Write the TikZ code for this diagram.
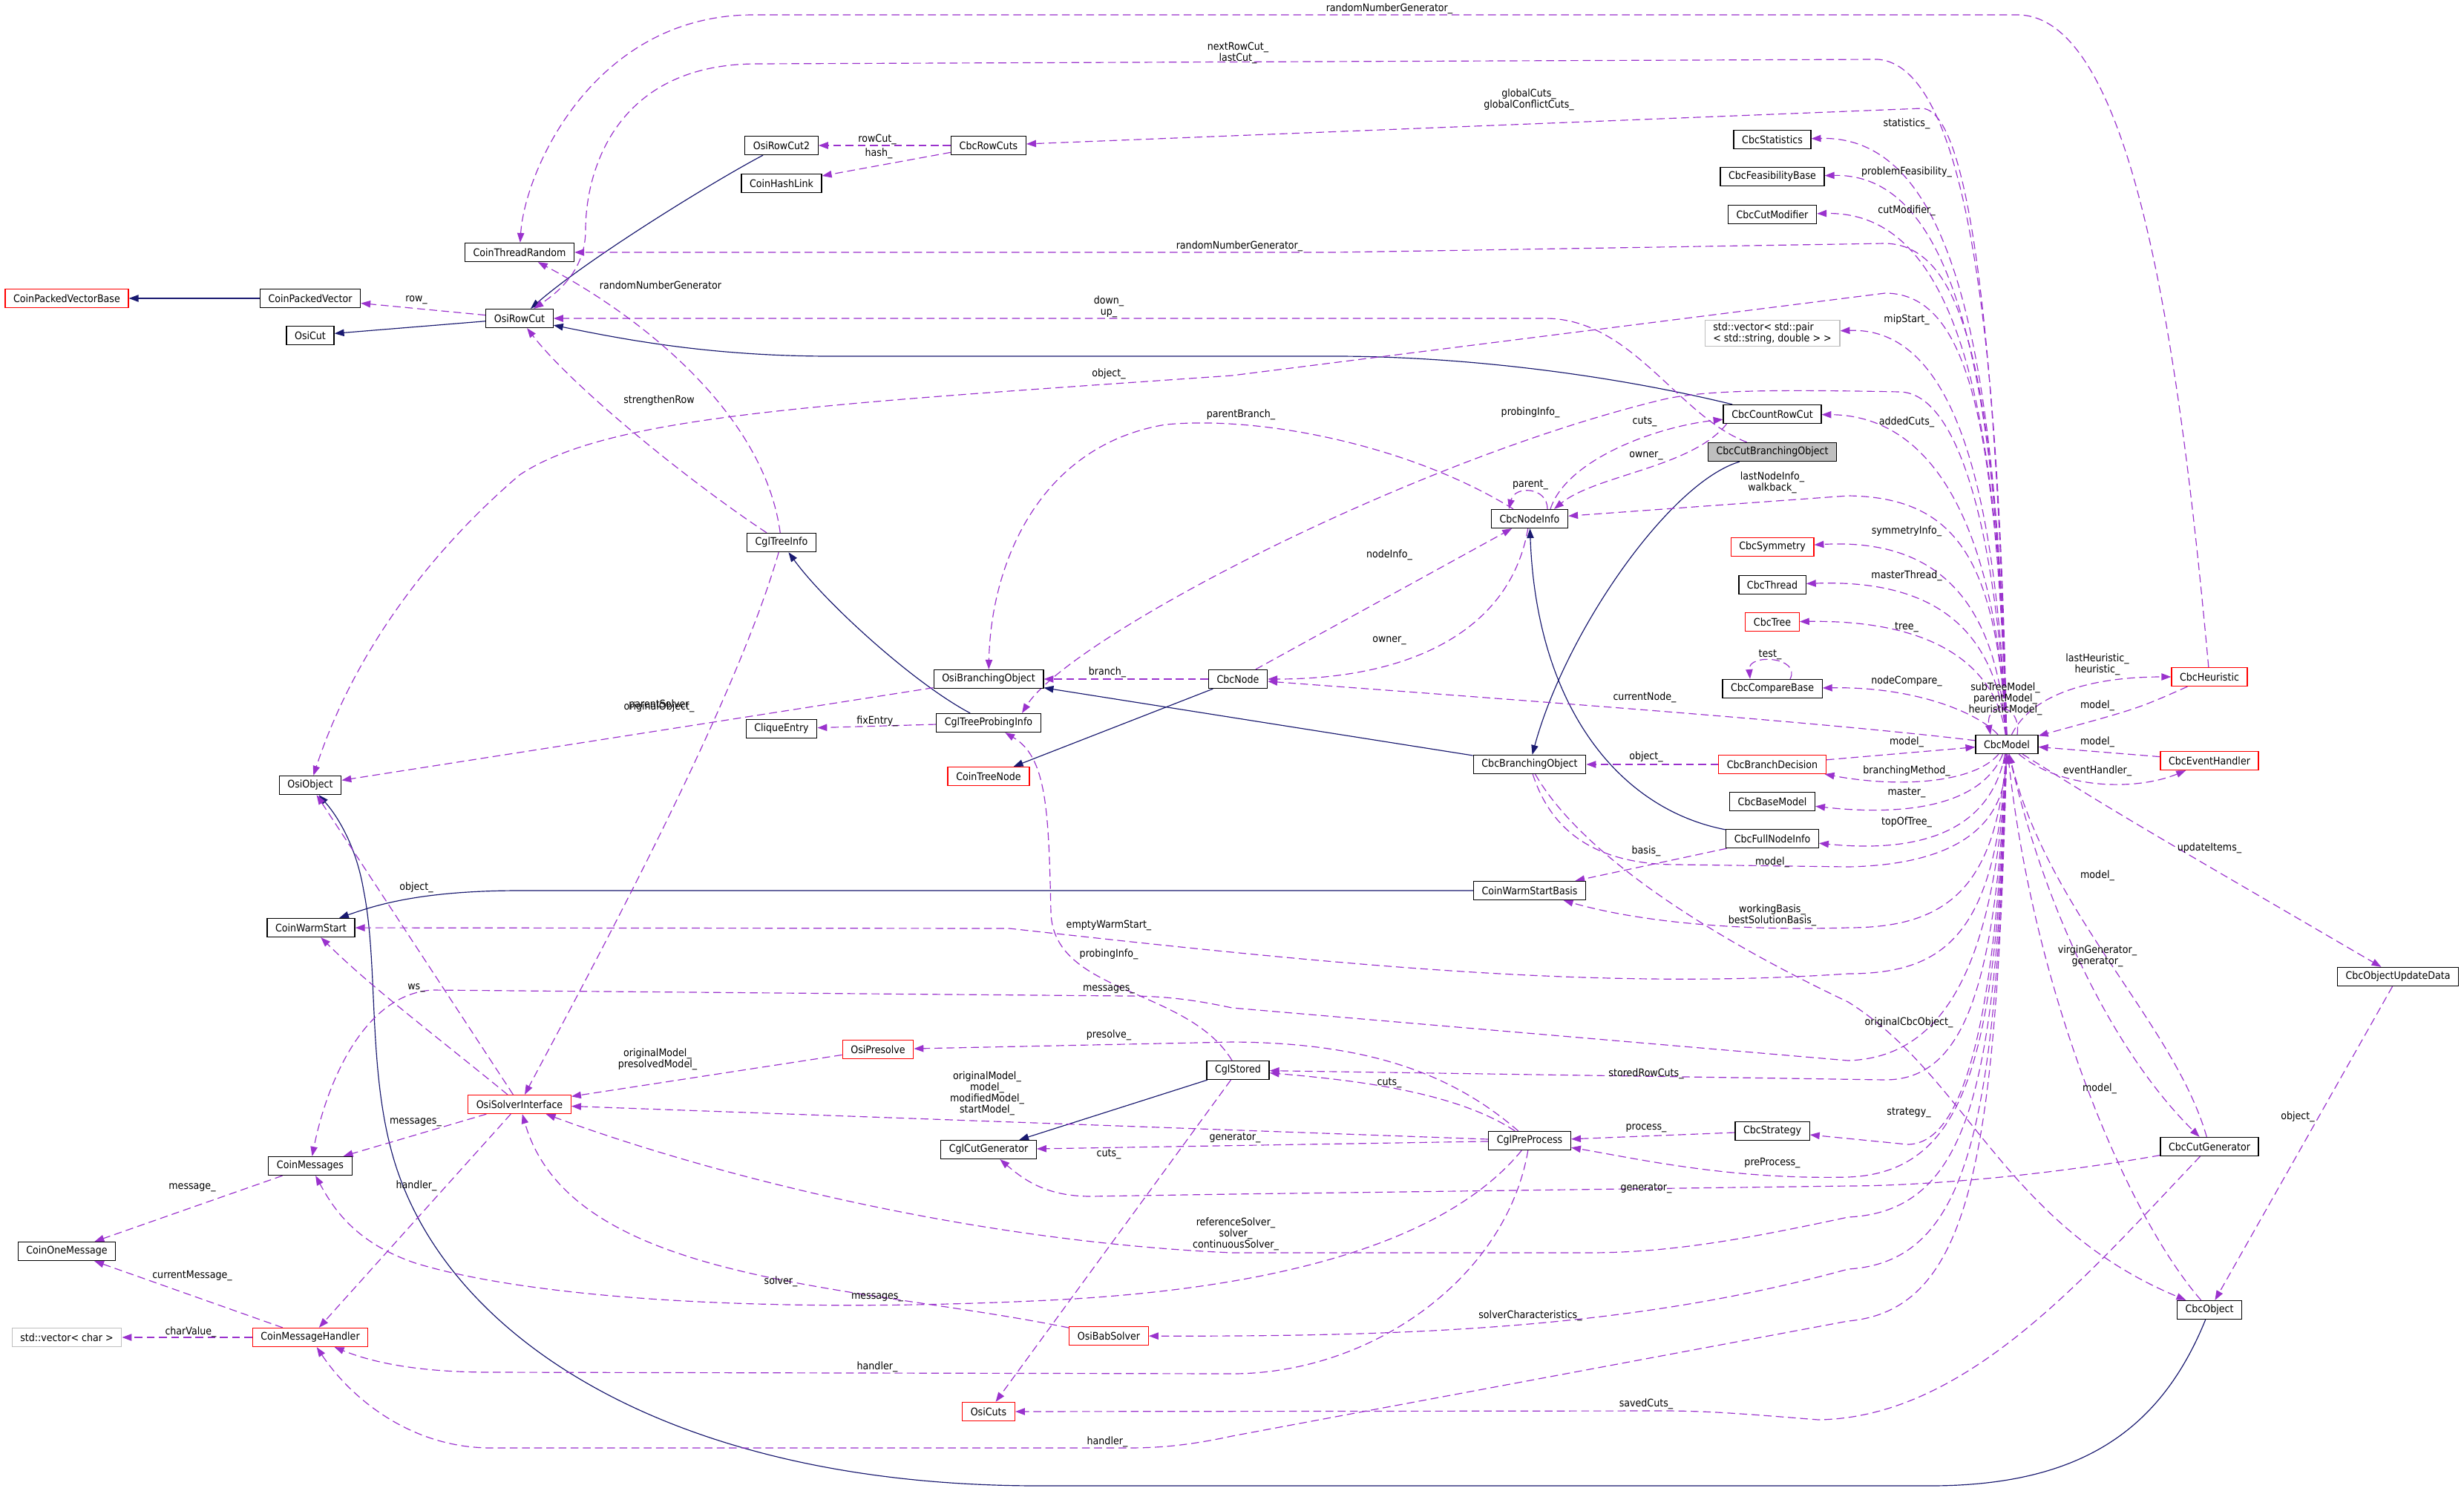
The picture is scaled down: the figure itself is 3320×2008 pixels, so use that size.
\documentclass[tikz,border=0pt]{standalone}
\usepackage{fontspec}
\setmainfont{DejaVu Sans}[FakeStretch=0.9]
\usetikzlibrary{arrows.meta,calc,backgrounds}
\definecolor{dorchid}{HTML}{9A32CD}
\definecolor{mnavy}{HTML}{191970}
\definecolor{grey75}{HTML}{BFBFBF}
\newcommand\cbcfont{\fontsize{12}{12.8}\selectfont}
\tikzset{
  cls/.style={draw=black,fill=white,line width=1.1pt,font=\cbcfont,inner xsep=9.5pt,inner ysep=0pt,minimum height=0.75cm},
  redcls/.style={cls,draw=red},
  extcls/.style={cls,draw=grey75,align=left,inner ysep=3pt},
  uses/.style={-{Triangle[length=11pt,width=8pt]},color=dorchid,dash pattern=on 9pt off 5pt,line width=1pt},
  inh/.style={-{Triangle[length=11pt,width=8pt]},color=mnavy,line width=1pt},
  lbl/.style={font=\cbcfont,align=center,inner sep=0pt},
}
\begin{document}
\begin{tikzpicture}[x=0.03cm,y=-0.03cm]
  % classes
  \node[redcls] (CoinPackedVectorBase) at (90,402) {CoinPackedVectorBase};
  \node[cls] (CoinPackedVector) at (418,402) {CoinPackedVector};
  \node[cls] (OsiCut) at (418,452) {OsiCut};
  \node[cls] (OsiRowCut) at (700,429) {OsiRowCut};
  \node[cls] (CoinThreadRandom) at (700,340) {CoinThreadRandom};
  \node[cls] (OsiRowCut2) at (1053,196) {OsiRowCut2};
  \node[cls] (CoinHashLink) at (1053,247) {CoinHashLink};
  \node[cls] (CbcRowCuts) at (1332,196) {CbcRowCuts};
  \node[cls] (CbcStatistics) at (2388,188) {CbcStatistics};
  \node[cls] (CbcFeasibilityBase) at (2388,238) {CbcFeasibilityBase};
  \node[cls] (CbcCutModifier) at (2388,289) {CbcCutModifier};
  \node[extcls] (StdPair) at (2388,449) {std::vector< std::pair\\< std::string, double > >};
  \node[cls] (CbcCountRowCut) at (2388,558) {CbcCountRowCut};
  \node[cls,fill=grey75] (CbcCutBranchingObject) at (2388,609) {CbcCutBranchingObject};
  \node[cls] (CbcNodeInfo) at (2061,699) {CbcNodeInfo};
  \node[redcls] (CbcSymmetry) at (2388,737) {CbcSymmetry};
  \node[cls] (CbcThread) at (2388,788) {CbcThread};
  \node[redcls] (CbcTree) at (2388,838) {CbcTree};
  \node[cls] (CbcCompareBase) at (2388,928) {CbcCompareBase};
  \node[cls] (CbcNode) at (1668,915) {CbcNode};
  \node[cls] (CglTreeInfo) at (1053,731) {CglTreeInfo};
  \node[cls] (OsiBranchingObject) at (1332,915) {OsiBranchingObject};
  \node[cls] (CglTreeProbingInfo) at (1332,974) {CglTreeProbingInfo};
  \node[cls] (CliqueEntry) at (1053,982) {CliqueEntry};
  \node[redcls] (CoinTreeNode) at (1332,1046) {CoinTreeNode};
  \node[cls] (OsiObject) at (418,1058) {OsiObject};
  \node[cls] (CbcBranchingObject) at (2061,1030) {CbcBranchingObject};
  \node[redcls] (CbcBranchDecision) at (2388,1030) {CbcBranchDecision};
  \node[cls] (CbcBaseModel) at (2388,1080) {CbcBaseModel};
  \node[cls] (CbcFullNodeInfo) at (2388,1130) {CbcFullNodeInfo};
  \node[cls] (CoinWarmStartBasis) at (2061,1200) {CoinWarmStartBasis};
  \node[cls] (CoinWarmStart) at (419,1250) {CoinWarmStart};
  \node[cls] (CbcModel) at (2704,1003) {CbcModel};
  \node[redcls] (CbcHeuristic) at (2977,912) {CbcHeuristic};
  \node[redcls] (CbcEventHandler) at (2977,1025) {CbcEventHandler};
  \node[cls] (CbcObjectUpdateData) at (3231,1316) {CbcObjectUpdateData};
  \node[redcls] (OsiPresolve) at (1183,1414) {OsiPresolve};
  \node[cls] (CglStored) at (1668,1442) {CglStored};
  \node[redcls] (OsiSolverInterface) at (700,1488) {OsiSolverInterface};
  \node[cls] (CglPreProcess) at (2061,1537) {CglPreProcess};
  \node[cls] (CbcStrategy) at (2388,1524) {CbcStrategy};
  \node[cls] (CglCutGenerator) at (1332,1549) {CglCutGenerator};
  \node[cls] (CbcCutGenerator) at (2977,1545) {CbcCutGenerator};
  \node[cls] (CoinMessages) at (418,1571) {CoinMessages};
  \node[cls] (CoinOneMessage) at (90,1686) {CoinOneMessage};
  \node[redcls] (OsiBabSolver) at (1494,1800) {OsiBabSolver};
  \node[cls] (CbcObject) at (2977,1765) {CbcObject};
  \node[extcls] (StdChar) at (90,1802) {std::vector< char >};
  \node[redcls] (CoinMessageHandler) at (418,1802) {CoinMessageHandler};
  \node[redcls] (OsiCuts) at (1332,1902) {OsiCuts};

  \begin{scope}[on background layer]
    \fill[white] (0,0) rectangle (3320,2008);
    % inheritance
    \draw[inh] (CoinPackedVector) -- (CoinPackedVectorBase);
    \draw[inh] (OsiRowCut) -- (OsiCut);
    \draw[inh] (OsiRowCut2) .. controls (960,245) and (790,350) .. (OsiRowCut);
    \draw[inh] (CbcCountRowCut) .. controls (2150,500) and (1950,480) .. (1800,480) -- (1120,480) .. controls (950,480) and (830,455) .. (OsiRowCut);
    \draw[inh] (CbcCutBranchingObject) .. controls (2250,650) and (2110,850) .. (CbcBranchingObject);
    \draw[inh] (CbcBranchingObject) -- (OsiBranchingObject);
    \draw[inh] (CbcNode) -- (CoinTreeNode);
    \draw[inh] (CglTreeProbingInfo) .. controls (1230,920) and (1110,810) .. (CglTreeInfo);
    \draw[inh] (CbcFullNodeInfo) .. controls (2180,1090) and (2070,950) .. (CbcNodeInfo);
    \draw[inh] (CoinWarmStartBasis) -- (700,1200) .. controls (560,1200) and (500,1222) .. (CoinWarmStart);
    \draw[inh] (CglStored) -- (CglCutGenerator);
    \draw[inh] (CbcObject) .. controls (2910,1930) and (2800,2002) .. (2600,2002) -- (1400,2002) .. controls (900,2002) and (600,1800) .. (530,1560) .. controls (495,1440) and (510,1300) .. (490,1200) .. controls (480,1140) and (455,1100) .. (OsiObject);
    % members of CbcModel, upwards
    \draw[uses] (CbcModel) .. controls (2695,550) and (2665,90) .. (2530,80) -- (1020,86) .. controls (830,86) and (789,230) .. (789,310) .. controls (789,365) and (750,395) .. (OsiRowCut);
    \draw[uses] (CbcModel) .. controls (2692,520) and (2660,150) .. (2590,146) -- (CbcRowCuts);
    \draw[uses] (CbcModel) .. controls (2692,500) and (2640,182) .. (CbcStatistics);
    \draw[uses] (CbcModel) .. controls (2693,530) and (2640,233) .. (CbcFeasibilityBase);
    \draw[uses] (CbcModel) .. controls (2694,560) and (2640,284) .. (CbcCutModifier);
    \draw[uses] (CbcModel) .. controls (2690,560) and (2660,330) .. (2540,328) -- (1800,340) -- (CoinThreadRandom);
    \draw[uses] (CbcModel) .. controls (2690,600) and (2660,395) .. (2540,395) -- (1660,506) .. controls (1100,545) and (820,560) .. (700,640) .. controls (560,760) and (470,900) .. (OsiObject);
    \draw[uses] (CbcModel) .. controls (2690,680) and (2640,440) .. (StdPair);
    \draw[uses] (CbcModel) .. controls (2690,720) and (2610,560) .. (CbcCountRowCut);
    \draw[uses] (CbcModel) .. controls (2690,720) and (2640,530) .. (2560,528) .. controls (2400,525) and (2300,525) .. (2242,538) .. controls (1900,620) and (1440,860) .. ($(CglTreeProbingInfo.north)+(45,0)$);
    \draw[uses] (CbcModel) .. controls (2690,760) and (2640,670) .. (2490,668) -- (CbcNodeInfo);
    \draw[uses] (CbcModel) .. controls (2690,820) and (2620,725) .. (CbcSymmetry);
    \draw[uses] (CbcModel) .. controls (2690,860) and (2620,780) .. (CbcThread);
    \draw[uses] (CbcModel) .. controls (2690,900) and (2610,835) .. (CbcTree);
    \draw[uses] (CbcModel) .. controls (2665,960) and (2580,925) .. (CbcCompareBase);
    \draw[uses] (CbcModel) .. controls (2450,972) and (2000,940) .. (CbcNode);
    \draw[uses] (CbcModel) .. controls (2740,930) and (2830,912) .. (CbcHeuristic);
    \draw[uses] ($(CbcModel.north)+(14,0)$) .. controls +(6,-45) and +(-8,-45) .. ($(CbcModel.north)+(-22,0)$);
    % members of CbcModel, downwards
    \draw[uses] (CbcModel) .. controls (2660,1055) and (2560,1062) .. (CbcBranchDecision);
    \draw[uses] (CbcModel) .. controls (2670,1085) and (2570,1100) .. (CbcBaseModel);
    \draw[uses] (CbcModel) .. controls (2680,1130) and (2570,1148) .. (CbcFullNodeInfo);
    \draw[uses] (CbcModel) .. controls (2690,1200) and (2620,1250) .. (2490,1250) .. controls (2330,1255) and (2200,1240) .. (CoinWarmStartBasis);
    \draw[uses] (CbcModel) .. controls (2690,1260) and (2620,1312) .. (2490,1312) .. controls (2150,1335) and (1800,1300) .. (1360,1251) -- (CoinWarmStart);
    \draw[uses] (CbcModel) .. controls (2690,1300) and (2620,1425) .. (2490,1429) -- (1660,1358) .. controls (1600,1345) and (1560,1342) .. (1518,1342) -- (582,1334) .. controls (490,1340) and (440,1460) .. (CoinMessages);
    \draw[uses] (CbcModel) .. controls (2690,1320) and (2650,1455) .. (2540,1455) -- (CglStored);
    \draw[uses] (CbcModel) .. controls (2690,1360) and (2650,1542) .. (2570,1542) -- (CbcStrategy);
    \draw[uses] (CbcModel) .. controls (2690,1400) and (2660,1580) .. (2490,1586) .. controls (2330,1590) and (2200,1560) .. (CglPreProcess);
    \draw[uses] (CbcModel) .. controls (2690,1450) and (2660,1632) .. (2490,1640) .. controls (2350,1670) and (2250,1688) .. (2140,1688) -- (1660,1688) .. controls (1300,1672) and (950,1580) .. (OsiSolverInterface);
    \draw[uses] (CbcModel) .. controls (2690,1500) and (2660,1700) .. (2490,1710) .. controls (2200,1790) and (1900,1801) .. (OsiBabSolver);
    \draw[uses] (CbcModel) .. controls (2690,1550) and (2660,1765) .. (2490,1780) -- (1660,1935) .. controls (1600,1948) and (1560,1951) .. (1518,1951) -- (662,1951) .. controls (550,1951) and (470,1880) .. (CoinMessageHandler);
    \draw[uses] (CbcModel) .. controls (2860,1100) .. (CbcObjectUpdateData);
    \draw[uses] (CbcModel) .. controls (2760,1250) and (2860,1430) .. (CbcCutGenerator);
    \draw[uses] (CbcModel) .. controls (2780,1065) and (2880,1065) .. (CbcEventHandler);
    % back to CbcModel
    \draw[uses] (CbcBranchDecision) -- (CbcModel);
    \draw[uses] (CbcHeuristic) .. controls (2880,955) .. (CbcModel);
    \draw[uses] (CbcEventHandler) -- (CbcModel);
    \draw[uses] (CbcBranchingObject) .. controls (2090,1120) and (2150,1165) .. (2260,1165) -- (2490,1168) .. controls (2640,1165) and (2700,1110) .. (CbcModel);
    \draw[uses] (CbcCutGenerator) .. controls (2930,1380) and (2760,1230) .. (CbcModel);
    \draw[uses] (CbcObject) .. controls (2860,1630) and (2740,1330) .. (CbcModel);
    % other members
    \draw[uses] (CbcHeuristic) .. controls (2935,450) and (2870,20) .. (2718,20) -- (1015,20) .. controls (800,20) and (707,230) .. (CoinThreadRandom);
    \draw[uses] (OsiRowCut) -- (CoinPackedVector);
    \draw[uses] (CbcRowCuts) -- (OsiRowCut2);
    \draw[uses] (CbcRowCuts) -- (CoinHashLink);
    \draw[uses] (CbcCutBranchingObject) .. controls (2260,560) and (2200,430) .. (2083,429) -- (OsiRowCut);
    \draw[uses] (CglTreeInfo) .. controls (930,650) and (770,520) .. (OsiRowCut);
    \draw[uses] (CglTreeInfo) .. controls (1030,560) and (870,430) .. (CoinThreadRandom);
    \draw[uses] (CglTreeInfo) .. controls (990,950) and (800,1300) .. (OsiSolverInterface);
    \draw[uses] (OsiBranchingObject) -- (OsiObject);
    \draw[uses] (OsiSolverInterface) -- (OsiObject);
    \draw[uses] (OsiSolverInterface) .. controls (580,1390) and (500,1330) .. (CoinWarmStart);
    \draw[uses] (OsiSolverInterface) -- (CoinMessages);
    \draw[uses] (OsiSolverInterface) -- (CoinMessageHandler);
    \draw[uses] (CoinMessages) -- (CoinOneMessage);
    \draw[uses] (CoinMessageHandler) -- (CoinOneMessage);
    \draw[uses] (CoinMessageHandler) -- (StdChar);
    \draw[uses] (OsiPresolve) -- (OsiSolverInterface);
    \draw[uses] (CglPreProcess) .. controls (1960,1450) and (1850,1405) .. (1660,1404) -- (OsiPresolve);
    \draw[uses] (CglPreProcess) -- (OsiSolverInterface);
    \draw[uses] (CglPreProcess) -- (CglCutGenerator);
    \draw[uses] (CglPreProcess) .. controls (1960,1470) and (1820,1455) .. (CglStored);
    \draw[uses] (CglPreProcess) .. controls (1960,1660) and (1760,1735) .. (1412,1752) .. controls (1000,1772) and (700,1745) .. (560,1702) .. controls (480,1675) and (450,1630) .. (CoinMessages);
    \draw[uses] (CglPreProcess) .. controls (2030,1720) and (1850,1851) .. (1660,1851) -- (662,1849) .. controls (560,1849) and (500,1835) .. (CoinMessageHandler);
    \draw[uses] (OsiBabSolver) .. controls (1150,1730) and (770,1730) .. (OsiSolverInterface);
    \draw[uses] (CbcStrategy) -- (CglPreProcess);
    \draw[uses] (CglStored) .. controls (1600,1330) and (1420,1340) .. (1416,1230) .. controls (1413,1090) and (1410,1020) .. (CglTreeProbingInfo);
    \draw[uses] (CglStored) -- (OsiCuts);
    \draw[uses] (CbcCutGenerator) .. controls (2810,1720) and (2650,1910) .. (2450,1913) .. controls (2350,1905) and (2300,1901) .. (2242,1901) -- (OsiCuts);
    \draw[uses] (CbcCutGenerator) .. controls (2720,1590) and (2560,1598) .. (2490,1598) -- (1660,1609) -- (1470,1612) .. controls (1410,1612) and (1380,1590) .. (CglCutGenerator);
    \draw[uses] (CbcObjectUpdateData) -- (CbcObject);
    \draw[uses] (CbcBranchingObject) .. controls (2130,1150) and (2300,1260) .. (2490,1350) .. controls (2650,1450) and (2700,1650) .. (CbcObject);
    \draw[uses] (CbcFullNodeInfo) -- (CoinWarmStartBasis);
    \draw[uses] (CbcBranchDecision) -- (CbcBranchingObject);
    \draw[uses] (CbcNode) -- (CbcNodeInfo);
    \draw[uses] (CbcNodeInfo) .. controls (2035,850) and (1900,915) .. (CbcNode);
    \draw[uses] ($(CbcNodeInfo.north)+(28,0)$) .. controls (2110,620) and (2230,575) .. (CbcCountRowCut);
    \draw[uses] ($(CbcCountRowCut.south west)+(5,0)$) .. controls (2280,630) and (2150,640) .. ($(CbcNodeInfo.north)+(33,0)$);
    \draw[uses] ($(CbcNodeInfo.north)+(24,0)$) .. controls +(0,-30) and +(8,-32) .. ($(CbcNodeInfo.north)+(-28,0)$);
    \draw[uses] ($(CbcNodeInfo.north)+(-22,0)$) .. controls (1900,600) and (1700,560) .. (1571,572) .. controls (1400,600) and (1335,760) .. (OsiBranchingObject);
    \draw[uses] (CbcNode) -- (OsiBranchingObject);
    \draw[uses] (CglTreeProbingInfo) -- (CliqueEntry);
    \draw[uses] ($(CbcCompareBase.north)+(24,0)$) .. controls +(15,-30) and +(-3,-35) .. ($(CbcCompareBase.north)+(-30,0)$);
  \end{scope}

  % edge labels
  \foreach \x/\y/\t [count=\i] in {
    1872/12/randomNumberGenerator\_, 1668/71/{nextRowCut\_\\lastCut\_},
    2060/134/{globalCuts\_\\globalConflictCuts\_}, 1182/188/rowCut\_, 1184/207/hash\_,
    2569/167/statistics\_, 2569/232/problemFeasibility\_, 2569/284/cutModifier\_,
    1670/332/randomNumberGenerator\_, 890/384/randomNumberGenerator, 561/404/row\_,
    1494/413/{down\_\\up\_}, 2569/431/mipStart\_, 1494/504/object\_, 888/540/strengthenRow,
    2062/556/probingInfo\_, 1672/559/parentBranch\_, 2216/568/cuts\_, 2569/569/addedCuts\_,
    2218/614/owner\_, 2062/653/parent\_, 2388/650/{lastNodeInfo\_\\walkback\_},
    2569/716/symmetryInfo\_, 1872/748/nodeInfo\_, 2569/776/masterThread\_, 2569/845/tree\_,
    1872/863/owner\_, 2385/882/test\_, 2826/895/{lastHeuristic\_\\heuristic\_}, 1492/906/branch\_,
    2569/918/nodeCompare\_, 2702/942/{subTreeModel\_\\parentModel\_\\heuristicModel\_},
    2826/951/model\_, 2216/940/currentNode\_, 888/950/parentSolver, 888/953/originalObject\_,
    1182/972/fixEntry\_, 2218/1020/object\_, 2569/1000/model\_, 2826/1000/model\_,
    2569/1039/branchingMethod\_, 2826/1039/eventHandler\_, 2569/1068/master\_,
    2569/1108/topOfTree\_, 2218/1147/basis\_, 2388/1162/model\_, 2977/1143/updateItems\_,
    561/1196/object\_, 2826/1180/model\_, 2388/1233/{workingBasis\_\\bestSolutionBasis\_},
    1494/1247/emptyWarmStart\_, 2826/1288/{virginGenerator\_\\generator\_}, 1494/1286/probingInfo\_,
    561/1331/ws\_, 1494/1333/messages\_, 2572/1378/originalCbcObject\_, 1494/1395/presolve\_,
    886/1427/{originalModel\_\\presolvedModel\_}, 2218/1447/storedRowCuts\_,
    1330/1473/{originalModel\_\\model\_\\modifiedModel\_\\startModel\_}, 1872/1459/cuts\_,
    2829/1467/model\_, 2572/1499/strategy\_, 3096/1505/object\_, 560/1512/messages\_,
    2218/1520/process\_, 1664/1533/generator\_, 1494/1555/cuts\_, 2388/1567/preProcess\_,
    2218/1601/generator\_, 259/1600/message\_, 561/1598/handler\_,
    1665/1663/{referenceSolver\_\\solver\_\\continuousSolver\_}, 259/1719/currentMessage\_,
    1052/1727/solver\_, 1182/1748/messages\_, 2062/1773/solverCharacteristics\_,
    257/1795/charValue\_, 1182/1842/handler\_, 2218/1892/savedCuts\_, 1492/1943/handler\_} {
    \node[lbl] (lbl\i) at (\x,\y) {\t};
  }
\end{tikzpicture}
\end{document}
